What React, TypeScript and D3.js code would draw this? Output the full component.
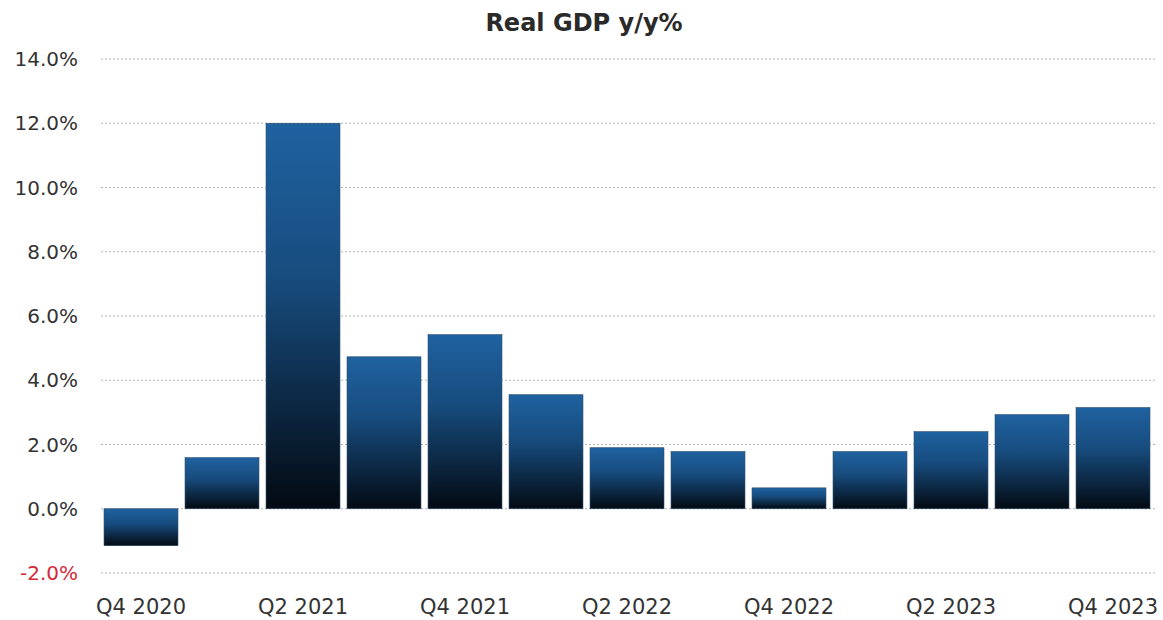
import React from "react";
import * as d3 from "d3";

const categories = [
  "Q4 2020", "Q1 2021", "Q2 2021", "Q3 2021", "Q4 2021", "Q1 2022", "Q2 2022",
  "Q3 2022", "Q4 2022", "Q1 2023", "Q2 2023", "Q3 2023", "Q4 2023",
];
const gdpValues = [-1.15, 1.59, 12.0, 4.73, 5.42, 3.55, 1.9, 1.78, 0.65, 1.78, 2.4, 2.93, 3.15];
const yTicks = [-2, 0, 2, 4, 6, 8, 10, 12, 14];
const xTickLabels = ["Q4 2020", "Q2 2021", "Q4 2021", "Q2 2022", "Q4 2022", "Q2 2023", "Q4 2023"];
const title = "Real GDP y/y%";

const W = 1163;
const H = 620;

const locale = d3.formatLocale({
  decimal: ".",
  thousands: ",",
  grouping: [3],
  currency: ["$", ""],
  minus: "-",
});
const fmt = locale.format(".1f");

export default function App() {
  const x = d3
    .scaleBand<string>()
    .domain(categories)
    .range([100.5, 1153.5])
    .paddingInner(0.087)
    .paddingOuter(0.0435);
  const y = d3.scaleLinear().domain([-2, 14]).range([573, 59]);
  const font = "'DejaVu Sans', 'Open Sans', sans-serif";

  return (
    <svg
      width={W}
      height={H}
      style={{ position: "absolute", left: 0, top: 0, background: "#fff" }}
    >
      <defs>
        <linearGradient id="barGrad" x1="0" y1="0" x2="0" y2="1">
          <stop offset="0%" stopColor="#1f62a0" />
          <stop offset="40%" stopColor="#174c7e" />
          <stop offset="100%" stopColor="#030a12" />
        </linearGradient>
      </defs>
      <text
        x={584}
        y={31}
        textAnchor="middle"
        fontFamily={font}
        fontWeight={700}
        fontSize={24}
        fill="#2a2a2a"
      >
        {title}
      </text>
      {yTicks.map((t) => (
        <g key={t}>
          <line
            x1={101}
            x2={1156}
            y1={y(t)}
            y2={y(t)}
            stroke="#b5b5b5"
            strokeWidth={1.2}
            strokeDasharray="2,2"
          />
          <text
            x={78}
            y={y(t)}
            dy="0.36em"
            textAnchor="end"
            fontFamily={font}
            fontSize={20}
            fill={t < 0 ? "#d42a3a" : "#333"}
          >
            {fmt(t) + "%"}
          </text>
        </g>
      ))}
      {categories.map((c, i) => {
        const v = gdpValues[i];
        const y0 = Math.min(y(v), y(0));
        const h = Math.abs(y(v) - y(0));
        return (
          <rect
            key={c}
            x={x(c)}
            y={y0}
            width={x.bandwidth()}
            height={h}
            fill="url(#barGrad)"
            stroke="#2a4a6a"
            strokeWidth={0.6}
          />
        );
      })}
      {xTickLabels.map((c) => (
        <text
          key={c}
          x={(x(c) as number) + x.bandwidth() / 2}
          y={614}
          textAnchor="middle"
          fontFamily={font}
          fontSize={21}
          fill="#333"
        >
          {c}
        </text>
      ))}
    </svg>
  );
}
